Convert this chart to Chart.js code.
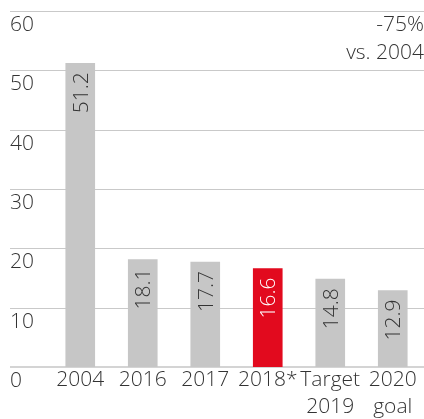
<!DOCTYPE html>
<html>
<head>
<meta charset="utf-8">
<script src="https://cdn.jsdelivr.net/npm/chart.js@4.4.1/dist/chart.umd.min.js"></script>
<style>
  html, body { margin: 0; padding: 0; background: #fff; }
  #wrap { width: 424px; height: 419px; }
</style>
</head>
<body>
<div id="wrap"><canvas id="chart" width="424" height="419"></canvas></div>
<script>
const categories = ["2004", "2016", "2017", "2018*", ["Target", "2019"], ["2020", "goal"]];
const values = [51.2, 18.1, 17.7, 16.6, 14.8, 12.9];
const yTicks = [0, 10, 20, 30, 40, 50, 60];
const note = ["-75%", "vs. 2004"];

const GREY = "#c6c6c6";
const RED = "#e20a1e";
const TEXT = "#333333";
const FONT = "'Open Sans', Lato, sans-serif";
const SIZE = 21;

// highlight the 2018 bar
const barColors = categories.map((c, i) => (i === 3 ? RED : GREY));
const labelColors = categories.map((c, i) => (i === 3 ? "#ffffff" : TEXT));

// horizontal grid + y labels, drawn across the full width under the bars
const gridPlugin = {
  id: "gridPlugin",
  beforeDatasetsDraw(chart) {
    const { ctx } = chart;
    const y = chart.scales.y;
    ctx.save();
    yTicks.forEach(t => {
      const py = Math.round(y.getPixelForValue(t));
      ctx.strokeStyle = t === 0 ? "#d4d4d4" : "#c9c9c9";
      ctx.lineWidth = t === 0 ? 2 : 1;
      ctx.beginPath();
      const off = t === 0 ? 0 : 0.5;
      ctx.moveTo(10, py + off);
      ctx.lineTo(chart.width, py + off);
      ctx.stroke();
    });
    ctx.fillStyle = TEXT;
    ctx.font = "300 " + SIZE + "px " + FONT;
    ctx.textAlign = "left";
    ctx.textBaseline = "middle";
    yTicks.forEach(t => {
      ctx.fillText(String(t), 10, y.getPixelForValue(t) + 14);
    });
    ctx.restore();
  },
  afterDatasetsDraw(chart) {
    const { ctx } = chart;
    const meta = chart.getDatasetMeta(0);
    ctx.save();
    ctx.font = "300 " + SIZE + "px " + FONT;
    ctx.textBaseline = "alphabetic";
    ctx.textAlign = "right";
    meta.data.forEach((bar, i) => {
      ctx.save();
      ctx.translate(bar.x + 7.5, bar.y + 9);
      ctx.rotate(-Math.PI / 2);
      ctx.fillStyle = labelColors[i];
      ctx.fillText(values[i].toFixed(1), 0, 0);
      ctx.restore();
    });
    // note in the top right corner
    ctx.fillStyle = TEXT;
    ctx.textAlign = "right";
    ctx.textBaseline = "middle";
    ctx.fillText(note[0], chart.width, 25);
    ctx.fillText(note[1], chart.width, 53);
    ctx.restore();
  }
};

new Chart(document.getElementById("chart"), {
  type: "bar",
  data: {
    labels: categories,
    datasets: [{
      data: values,
      backgroundColor: barColors,
      borderWidth: 0,
      barThickness: 29
    }]
  },
  options: {
    responsive: false,
    animation: false,
    layout: { padding: { top: 11, left: 49, right: 0, bottom: 0 } },
    plugins: {
      legend: { display: false },
      tooltip: { enabled: false }
    },
    scales: {
      x: {
        grid: { display: false, drawTicks: false },
        border: { display: false },
        ticks: {
          color: TEXT,
          padding: 0,
          maxRotation: 0,
          autoSkip: false,
          font: { family: FONT, size: SIZE, weight: 300, lineHeight: 27 / SIZE }
        },
        afterFit(scale) { scale.height = 52; }
      },
      y: {
        display: false,
        min: 0,
        max: 60
      }
    }
  },
  plugins: [gridPlugin]
});
</script>
</body>
</html>
